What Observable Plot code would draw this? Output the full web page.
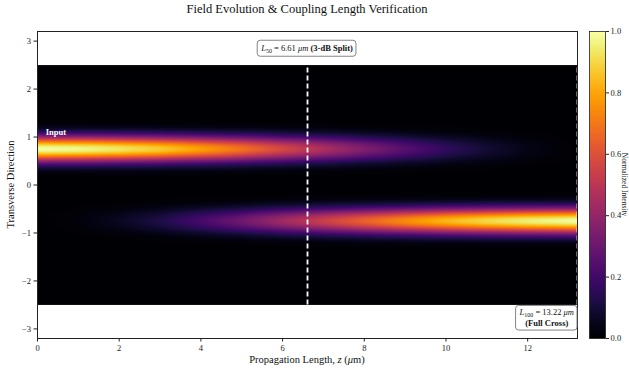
<!DOCTYPE html>
<html><head><meta charset="utf-8">
<script src="https://cdn.jsdelivr.net/npm/d3@7"></script>
<script src="https://cdn.jsdelivr.net/npm/@observablehq/plot@0.6"></script>
<style>
body{margin:0;background:#fff;width:629px;height:370px;overflow:hidden;font-family:'Liberation Serif','DejaVu Serif',serif;}
#wrap{position:relative;width:629px;height:370px;}
#title{position:absolute;left:0;width:614px;top:2px;text-align:center;font-size:12.5px;color:#111;}
#main{position:absolute;left:0;top:0;}
#cbar{position:absolute;left:580px;top:0;}
svg, svg text{font-family:'Liberation Serif','DejaVu Serif',serif !important;}
</style></head><body>
<div id="wrap"><div id="title">Field Evolution &amp; Coupling Length Verification</div><div id="main"></div><div id="cbar"></div></div>
<script>
// ---- data ----
const zSamples   = [0, 1, 2, 3, 4, 5, 6, 7, 8, 9, 10, 11, 12, 13, 13.22];
const upperPower = [1.00, 0.98, 0.94, 0.88, 0.79, 0.69, 0.57, 0.46, 0.35, 0.25, 0.16, 0.09, 0.04, 0.01, 0.00];
const lowerPower = [0.00, 0.02, 0.06, 0.12, 0.21, 0.31, 0.43, 0.54, 0.65, 0.75, 0.84, 0.91, 0.96, 0.99, 1.00];
const profileStep = 0.05; // transverse spacing of the profile samples
const beamProfile = [1.00, 0.96, 0.86, 0.72, 0.56, 0.40, 0.27, 0.17, 0.10, 0.05, 0.03, 0.01, 0.005, 0];
const upperCenter = 0.75;
const lowerCenter = -0.75;
const guideExtent = [-2.5, 2.5];
const halfLength = 6.61;
const fullLength = 13.22;
const xTicks = [0, 2, 4, 6, 8, 10, 12];
const yTicks = [-3, -2, -1, 0, 1, 2, 3];
const cbarTicks = [0, 0.2, 0.4, 0.6, 0.8, 1.0];
const inputLabel = [{text: "Input", z: 0.2, y: 1.1}];

// ---- table for the raster ----
const prof = d => { const i = Math.round(Math.abs(d) / profileStep); return i < beamProfile.length ? beamProfile[i] : 0; };
const nY = Math.round((guideExtent[1] - guideExtent[0]) / profileStep);
const cells = [];
zSamples.forEach((z, i) => {
  for (let k = 0; k <= nY; k++) {
    const y = +(guideExtent[0] + k * profileStep).toFixed(3);
    cells.push({z, y, v: upperPower[i] * prof(y - upperCenter) + lowerPower[i] * prof(y - lowerCenter)});
  }
});

const serif = "'Liberation Serif','DejaVu Serif',serif";
const plot = Plot.plot({
  width: 580, height: 370,
  marginLeft: 37, marginRight: 3, marginTop: 31, marginBottom: 32,
  style: {fontFamily: serif, fontSize: "8.5px", color: "#222", background: "transparent"},
  x: {domain: [0, fullLength], ticks: xTicks, tickFormat: "d", tickSize: 3.5, tickPadding: 3, label: null},
  y: {domain: [-3.2, 3.2], ticks: yTicks, tickFormat: "d", tickSize: 3.5, tickPadding: 3, label: null},
  color: {type: "linear", scheme: "inferno", domain: [0, 1]},
  marks: [
    Plot.raster(cells, {x: "z", y: "y", fill: "v", interpolate: "barycentric",
      x1: 0, x2: fullLength, y1: guideExtent[0], y2: guideExtent[1]}),
    Plot.ruleX([halfLength, fullLength], {y1: guideExtent[0], y2: guideExtent[1], stroke: "white", strokeWidth: 1.8, strokeDasharray: "5,3"}),
    Plot.text(inputLabel, {x: "z", y: "y", text: "text", fill: "white", fontWeight: "bold", fontSize: 8.5, textAnchor: "start"}),
    Plot.frame({stroke: "#222", strokeWidth: 1})
  ]
});
document.getElementById("main").appendChild(plot);

const cbar = Plot.plot({
  width: 49, height: 370,
  marginLeft: 9, marginRight: 24, marginTop: 31, marginBottom: 32,
  style: {fontFamily: serif, fontSize: "8.5px", color: "#222", background: "transparent"},
  x: {domain: [0, 1], axis: null},
  y: {domain: [0, 1], ticks: cbarTicks, tickFormat: ".1f", axis: "right", tickSize: 3, tickPadding: 2, label: null},
  color: {type: "linear", scheme: "inferno", domain: [0, 1]},
  marks: [
    Plot.raster({fill: (x, y) => y, x1: 0, x2: 1, y1: 0, y2: 1, width: 2, height: 200}),
    Plot.frame({stroke: "#222", strokeWidth: 0.8})
  ]
});
document.getElementById("cbar").appendChild(cbar);

// ---- annotations (positioned with the plot's scales) ----
const NS = "http://www.w3.org/2000/svg";
const sx = plot.scale("x"), sy = plot.scale("y");
function el(tag, attrs, parent) { const e = document.createElementNS(NS, tag); for (const k in attrs) e.setAttribute(k, attrs[k]); if (parent) parent.appendChild(e); return e; }
function span(parent, txt, attrs = {}) { const t = el("tspan", attrs, parent); t.textContent = txt; return t; }
function boxed(g, pad) {
  const b = g.getBBox();
  const r = el("rect", {x: b.x - pad, y: b.y - pad + 0.5, width: b.width + 2 * pad, height: b.height + 2 * pad - 1, rx: 3, fill: "white", stroke: "#777", "stroke-width": 0.9});
  g.parentNode.insertBefore(r, g);
}
const ann = el("g", {"font-family": serif, "font-size": 8.5, fill: "#111"}, plot);

// top annotation
const t1 = el("text", {x: sx.apply(halfLength), y: sy.apply(2.85), "text-anchor": "middle", dy: "0.35em"}, ann);
span(t1, "L", {"font-style": "italic"});
span(t1, "50", {"font-size": 6, dy: "2"});
span(t1, " = 6.61 ", {dy: "-2"});
span(t1, "μm", {"font-style": "italic"});
span(t1, " (3-dB Split)", {"font-weight": "bold"});
boxed(t1, 3);

// bottom annotation
const g2 = el("text", {x: 0, y: 0}, ann);
span(g2, "L", {"font-style": "italic", x: 0, dy: 0});
span(g2, "100", {"font-size": 6, dy: "2"});
span(g2, " = 13.22 ", {dy: "-2"});
span(g2, "μm", {"font-style": "italic"});
span(g2, "(Full Cross)", {"font-weight": "bold", x: 0, dy: "1.25em"});
const bb = g2.getBBox();
const tx = sx.apply(fullLength) - 3 - bb.width - bb.x;
const ty = sy.apply(guideExtent[0]) + 3 - bb.y;
g2.setAttribute("transform", `translate(${tx},${ty})`);
(function () {
  const b = g2.getBBox();
  const r = el("rect", {x: b.x - 3 + tx, y: b.y - 2 + ty, width: b.width + 6, height: b.height + 4, rx: 3, fill: "white", stroke: "#777", "stroke-width": 0.9});
  ann.insertBefore(r, g2);
})();

// axis labels
const xl = el("text", {x: (sx.apply(0) + sx.apply(fullLength)) / 2, y: 363, "text-anchor": "middle", "font-size": 10.5}, ann);
span(xl, "Propagation Length, ");
span(xl, "z", {"font-style": "italic"});
span(xl, " (");
span(xl, "μ", {"font-style": "italic"});
span(xl, "m)");
const yl = el("text", {transform: `translate(14,${sy.apply(0)}) rotate(-90)`, "text-anchor": "middle", "font-size": 10.5}, ann);
yl.textContent = "Transverse Direction";

// colorbar label
const cl = el("text", {transform: `translate(42,${(31 + 338) / 2}) rotate(90)`, "text-anchor": "middle", "font-size": 7.5, "font-family": serif, fill: "#222"}, cbar);
cl.textContent = "Normalized Intensity";
</script>
</body></html>
